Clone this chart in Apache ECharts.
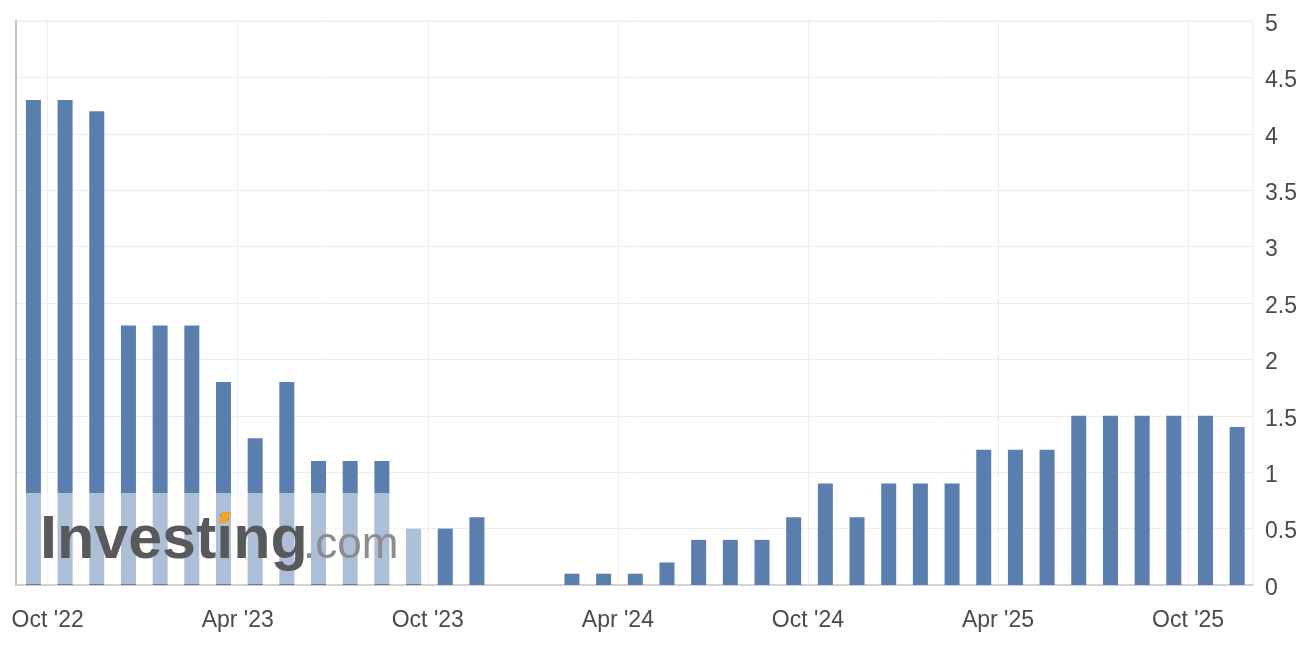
<!DOCTYPE html>
<html><head><meta charset="utf-8">
<script src="https://cdn.jsdelivr.net/npm/echarts@6/dist/echarts.min.js"></script>
<style>html,body{margin:0;padding:0;background:#fff}#c{width:1312px;height:646px}</style>
</head><body><div id="c"></div>
<script>
// Months of the bars (one bar per month)
const months = ["Sep '22","Oct '22","Nov '22","Dec '22",
  "Jan '23","Feb '23","Mar '23","Apr '23","May '23","Jun '23","Jul '23","Aug '23","Sep '23","Oct '23","Nov '23","Dec '23",
  "Jan '24","Feb '24","Mar '24","Apr '24","May '24","Jun '24","Jul '24","Aug '24","Sep '24","Oct '24","Nov '24","Dec '24",
  "Jan '25","Feb '25","Mar '25","Apr '25","May '25","Jun '25","Jul '25","Aug '25","Sep '25","Oct '25","Nov '25"];
// Values
const values = [4.3,4.3,4.2,2.3,2.3,2.3,1.8,1.3,1.8,1.1,1.1,1.1,0.5,
  0.5,0.6,0,0,0.1,0.1,0.1,0.2,0.4,0.4,0.4,0.6,0.9,0.6,0.9,0.9,0.9,
  1.2,1.2,1.2,1.5,1.5,1.5,1.5,1.5,1.4];
// X-axis tick labels (at month starts)
const tickLabels = ["Oct '22","Apr '23","Oct '23","Apr '24","Oct '24","Apr '25","Oct '25"];
const yMin = 0, yMax = 5, yStep = 0.5;

const BAR_OFFSET = 0.55; // bars sit mid-month
const tickValues = tickLabels.map(l => months.indexOf(l));
const barData = values.map((v, i) => [i + BAR_OFFSET, v]);

const FONT = "'Liberation Sans', Arial, sans-serif";
const chart = echarts.init(document.getElementById('c'), null, {renderer: 'canvas'});
chart.setOption({
  animation: false,
  backgroundColor: '#ffffff',
  grid: {left: 16, right: 59, top: 21, bottom: 61, show: true, borderColor: '#ececec', borderWidth: 1},
  xAxis: {
    type: 'value', min: 0, max: 39.05,
    axisLine: {show: true, lineStyle: {color: '#c8c8c8', width: 1.5}},
    axisTick: {show: false, customValues: tickValues},
    axisLabel: {customValues: tickValues, formatter: v => months[Math.round(v)],
      color: '#4a4a4a', fontSize: 23, fontFamily: FONT, margin: 24},
    splitLine: {show: true, lineStyle: {color: '#ededed', width: 1}}
  },
  yAxis: [{
    type: 'value', position: 'right', min: yMin, max: yMax, interval: yStep,
    axisLine: {show: true, lineStyle: {color: '#b0b0b0', width: 1.5}},
    axisTick: {show: false},
    axisLabel: {margin: 12, formatter: v => '{a|' + v + '}',
      rich: {a: {color: '#4a4a4a', fontSize: 23, fontFamily: FONT, padding: [7, 0, 0, 0]}}},
    splitLine: {show: true, lineStyle: {color: '#ececec', width: 1}}
  }, {
    type: 'value', position: 'left', min: yMin, max: yMax, interval: yStep,
    axisLine: {show: true, lineStyle: {color: '#c4c4c4', width: 2}},
    axisTick: {show: false}, axisLabel: {show: false}, splitLine: {show: false}
  }],
  series: [{
    type: 'bar', data: barData, barWidth: 15, yAxisIndex: 0,
    itemStyle: {color: '#5a7faf'}
  }],
  graphic: [
    {type: 'rect', shape: {x: 17, y: 493, width: 404, height: 91}, style: {fill: 'rgba(255,255,255,0.5)'}, z: 100, silent: true},
    {type: 'text', x: 40, y: 541, z: 101, silent: true,
      style: {text: 'Investing', font: "bold 61px 'Liberation Sans', Arial, sans-serif", fill: '#58595b', verticalAlign: 'middle', align: 'left'}},
    {type: 'text', x: 303, y: 546, z: 101, silent: true,
      style: {text: '.com', font: "44px 'Liberation Sans', Arial, sans-serif", fill: '#8c8c8c', verticalAlign: 'middle', align: 'left'}},
    {type: 'polygon', shape: {points: [[218, 523], [222, 512], [231, 512], [227, 523]]}, style: {fill: '#f2a52b'}, z: 102, silent: true}
  ]
});
</script></body></html>
